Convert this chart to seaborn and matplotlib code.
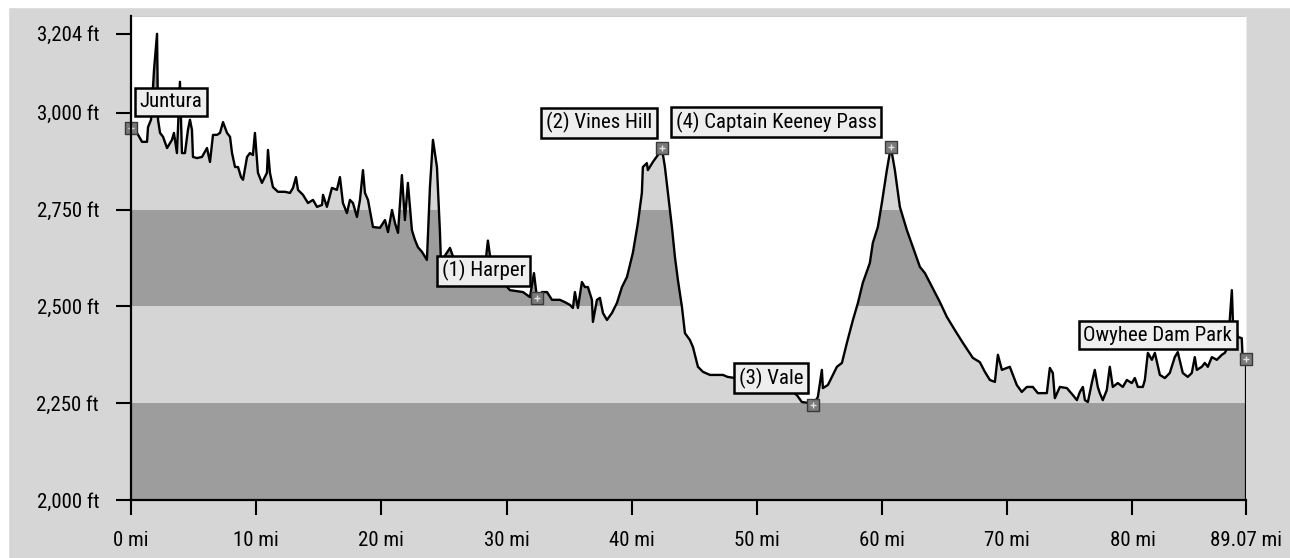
import matplotlib
matplotlib.use('Agg')
import matplotlib.pyplot as plt
from matplotlib import font_manager
import seaborn as sns
import pandas as pd

# elevation profile (miles, feet)
miles = [0.00, 0.48, 0.88, 1.28, 1.36, 1.60, 1.84, 2.08, 2.16, 2.32, 2.56, 2.88, 3.27, 3.43, 3.67,
         3.91, 4.07, 4.31, 4.55, 4.71, 4.87, 4.95, 5.27, 5.67, 6.07, 6.31, 6.55, 6.87, 7.11, 7.35,
         7.67, 7.91, 8.07, 8.31, 8.55, 8.79, 8.95, 9.27, 9.50, 9.74, 9.90, 10.14, 10.46, 10.86, 10.94,
         11.10, 11.34, 11.74, 12.30, 12.70, 12.94, 13.18, 13.34, 13.74, 14.14, 14.54, 14.86, 15.26, 15.34,
         15.65, 16.05, 16.45, 16.69, 16.93, 17.25, 17.49, 17.73, 18.05, 18.29, 18.53, 18.69, 18.93, 19.33,
         19.89, 20.29, 20.53, 20.85, 21.09, 21.33, 21.64, 21.88, 22.12, 22.44, 22.68, 22.92, 23.24, 23.64,
         23.88, 24.12, 24.44, 24.68, 24.76, 25.48, 25.88, 27.08, 28.27, 28.51, 28.83, 30.27, 31.31, 31.87,
         32.19, 32.43, 32.83, 33.23, 33.63, 34.26, 34.66, 35.06, 35.30, 35.46, 35.70, 36.02, 36.26, 36.50,
         36.82, 36.90, 37.22, 37.46, 37.70, 38.02, 38.42, 38.82, 39.22, 39.62, 40.09, 40.49, 40.81, 40.89,
         41.21, 41.29, 41.69, 42.09, 42.41, 42.65, 42.89, 43.21, 43.45, 43.69, 44.01, 44.25, 44.65, 44.89,
         45.29, 45.69, 46.25, 47.29, 47.65, 50.24, 52.63, 53.19, 53.59, 54.07, 54.47, 54.87, 55.19, 55.27,
         55.67, 56.39, 56.79, 57.19, 57.67, 58.07, 58.46, 59.02, 59.26, 59.66, 59.98, 60.38, 60.70, 61.02,
         61.42, 61.98, 62.46, 63.02, 63.42, 63.82, 64.62, 65.17, 65.81, 66.45, 67.25, 67.81, 68.21, 68.61,
         69.01, 69.25, 69.57, 69.96, 70.20, 70.76, 71.16, 71.56, 72.04, 72.44, 73.16, 73.40, 73.64, 73.80,
         74.20, 74.76, 75.24, 75.56, 75.80, 76.04, 76.20, 76.44, 76.75, 76.99, 77.23, 77.39, 77.63, 77.95,
         78.19, 78.43, 78.83, 79.23, 79.55, 79.95, 80.19, 80.43, 80.83, 80.99, 81.23, 81.55, 81.79, 82.19,
         82.59, 82.98, 83.38, 83.62, 84.02, 84.42, 84.74, 84.98, 85.14, 85.54, 85.78, 86.02, 86.34, 86.74,
         87.14, 87.38, 87.62, 87.94, 88.02, 88.42, 88.73, 88.81, 88.97, 89.07]
feet = [2961, 2948, 2925, 2925, 2963, 2982, 3111, 3204, 2982, 2948, 2938, 2909, 2930, 2948, 2896,
        3080, 2896, 2896, 2956, 2982, 2956, 2886, 2883, 2886, 2909, 2873, 2943, 2943, 2948, 2976,
        2948, 2938, 2896, 2860, 2860, 2834, 2827, 2886, 2896, 2891, 2948, 2845, 2819, 2845, 2904,
        2845, 2808, 2796, 2796, 2793, 2806, 2834, 2801, 2788, 2767, 2775, 2757, 2762, 2788,
        2757, 2806, 2801, 2834, 2767, 2741, 2775, 2767, 2731, 2775, 2852, 2793, 2775, 2705,
        2703, 2723, 2692, 2749, 2715, 2690, 2839, 2723, 2819, 2697, 2672, 2653, 2641, 2620,
        2808, 2930, 2860, 2692, 2615, 2651, 2615, 2605, 2600, 2670, 2595, 2542, 2537, 2524,
        2586, 2522, 2537, 2537, 2517, 2517, 2511, 2504, 2496, 2537, 2496, 2563, 2550, 2550,
        2517, 2460, 2517, 2522, 2483, 2465, 2483, 2509, 2550, 2576, 2638, 2715, 2793, 2860,
        2870, 2852, 2873, 2891, 2909, 2860, 2793, 2705, 2628, 2568, 2499, 2431, 2413, 2395,
        2344, 2331, 2323, 2323, 2318, 2305, 2284, 2271, 2253, 2251, 2245, 2266, 2336, 2289,
        2297, 2344, 2354, 2406, 2465, 2509, 2561, 2612, 2664, 2705, 2767, 2852, 2912, 2852,
        2757, 2697, 2653, 2602, 2586, 2561, 2511, 2473, 2439, 2406, 2367, 2356, 2331, 2310,
        2305, 2375, 2336, 2341, 2344, 2297, 2279, 2292, 2292, 2276, 2276, 2341, 2328, 2263,
        2292, 2289, 2271, 2258, 2279, 2292, 2258, 2253, 2302, 2336, 2292, 2276, 2258, 2284,
        2344, 2292, 2302, 2292, 2310, 2302, 2315, 2292, 2292, 2310, 2380, 2362, 2380, 2323,
        2315, 2328, 2369, 2382, 2328, 2318, 2328, 2369, 2336, 2344, 2354, 2344, 2369, 2362,
        2375, 2380, 2395, 2542, 2465, 2421, 2418, 2362, 2369, 2364]

stop_names = ['Juntura', '(1) Harper', '(2) Vines Hill', '(3) Vale',
              '(4) Captain Keeney Pass', 'Owyhee Dam Park']
stop_miles = [0.0, 32.43, 42.41, 54.47, 60.70, 89.07]
stop_feet = [2961, 2522, 2909, 2245, 2912, 2364]

y_ticks = [2000, 2250, 2500, 2750, 3000, 3204]
y_labels = ['2,000 ft', '2,250 ft', '2,500 ft', '2,750 ft', '3,000 ft', '3,204 ft']
x_ticks = [0, 10, 20, 30, 40, 50, 60, 70, 80, 89.07]
x_labels = ['0 mi', '10 mi', '20 mi', '30 mi', '40 mi', '50 mi', '60 mi', '70 mi', '80 mi', '89.07 mi']
band_edges = [2000, 2250, 2500, 2750, 3000, 3250]

profile = pd.DataFrame({'mile': miles, 'elev': feet})
stops = pd.DataFrame({'name': stop_names, 'mile': stop_miles, 'elev': stop_feet})

sns.set_style('white')

# pick a narrow face if one is installed
names = {f.name for f in font_manager.fontManager.ttflist}
narrow = [n for n in ['Liberation Sans Narrow', 'DejaVu Sans Condensed', 'Roboto Condensed',
                      'Open Sans Condensed'] if n in names]
if narrow:
    plt.rcParams['font.family'] = [narrow[0], 'DejaVu Sans']
    fsize = 15
else:
    plt.rcParams['font.family'] = ['DejaVu Sans']
    plt.rcParams['font.stretch'] = 'condensed'
    fsize = 13

dark = '#9d9d9d'
light = '#d5d5d5'

fig = plt.figure(figsize=(12.9, 5.58), dpi=100, facecolor='#d6d6d6')
fig.patches.append(plt.Rectangle((0, 0.987), 1, 0.013, transform=fig.transFigure, color='white', zorder=0))
fig.patches.append(plt.Rectangle((0, 0), 0.006, 1, transform=fig.transFigure, color='white', zorder=0))

ax = fig.add_axes([131 / 1290, 1 - 500 / 558, 1115 / 1290, 484 / 558])
ax.set_xlim(0, 89.07)
ax.set_ylim(2000, 3250)

# elevation bands under the profile, white above it
for i in range(len(band_edges) - 1):
    ax.axhspan(band_edges[i], band_edges[i + 1], color=dark if i % 2 == 0 else light, lw=0, zorder=0)
ax.fill_between(profile['mile'], profile['elev'], 3250, color='white', lw=0, zorder=1)

sns.lineplot(data=profile, x='mile', y='elev', sort=False, estimator=None,
             color='black', lw=1.7, ax=ax, zorder=3)
ax.plot([miles[-1], miles[-1]], [2000, feet[-1]], color='black', lw=1.6, zorder=3)

# stop markers
sns.scatterplot(data=stops, x='mile', y='elev', marker='s', s=70, color='#7a7a7a',
                edgecolor='#3a3a3a', linewidth=1, ax=ax, zorder=5, clip_on=False)
sns.scatterplot(data=stops, x='mile', y='elev', marker='+', s=25, color='#e0e0e0',
                linewidth=1, ax=ax, zorder=6, clip_on=False)

# stop labels
label_pos = [(3.19, 3028), (28.19, 2592), (37.38, 2974), (51.12, 2315), (51.52, 2976), (82.03, 2426)]
for name, (lx, ly) in zip(stop_names, label_pos):
    ax.text(lx, ly, name, ha='center', va='center', fontsize=fsize, color='black', zorder=7,
            bbox=dict(boxstyle='square,pad=0.22', fc='#eeeeee', ec='black', lw=1.8))

ax.set_yticks(y_ticks)
ax.set_yticklabels(y_labels)
ax.set_xticks(x_ticks)
ax.set_xticklabels(x_labels)
ax.set_xlabel('')
ax.set_ylabel('')
ax.tick_params(axis='both', direction='out', length=11, width=1.5, color='black',
               labelsize=fsize, labelcolor='black')
ax.tick_params(axis='y', pad=12)
ax.tick_params(axis='x', pad=11)
ax.yaxis.set_ticks_position('left')
ax.xaxis.set_ticks_position('bottom')

for side in ['top', 'right']:
    ax.spines[side].set_visible(False)
for side in ['left', 'bottom']:
    ax.spines[side].set_linewidth(1.6)
    ax.spines[side].set_color('black')
    ax.spines[side].set_zorder(8)

fig.savefig('out.png', dpi=100, facecolor=fig.get_facecolor())
